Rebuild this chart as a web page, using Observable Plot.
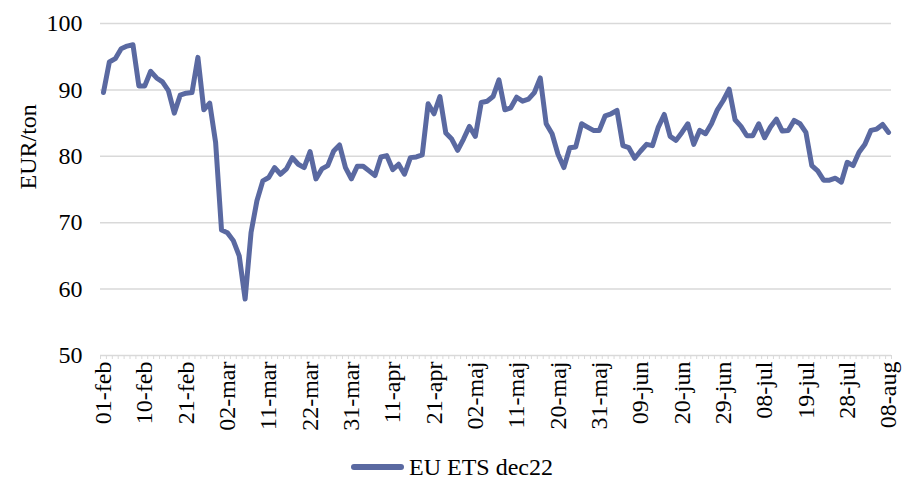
<!DOCTYPE html>
<html>
<head>
<meta charset="utf-8">
<script src="https://cdn.jsdelivr.net/npm/d3@7"></script>
<script src="https://cdn.jsdelivr.net/npm/@observablehq/plot@0.6"></script>
<style>
  html, body { margin: 0; padding: 0; background: #fff; }
  body { width: 904px; height: 489px; overflow: hidden; font-family: "Liberation Serif", Tinos, "Times New Roman", Times, "DejaVu Serif", serif; }
  #chart svg, #chart svg text { font-family: "Liberation Serif", Tinos, "Times New Roman", Times, "DejaVu Serif", serif !important; }
  #legend { display: flex; justify-content: center; align-items: center; height: 44px; font-size: 24px; color: #000; }
  #legend .sw { width: 53px; height: 5.5px; border-radius: 3px; background: #5a69a1; margin-right: 5px; }
</style>
</head>
<body>
<div id="chart"></div>
<div id="legend"><span class="sw"></span><span>EU ETS dec22</span></div>
<script>
// X tick labels (every 7th trading day)
const tickLabels = ["01-feb","10-feb","21-feb","02-mar","11-mar","22-mar","31-mar","11-apr","21-apr","02-maj",
  "11-maj","20-maj","31-maj","09-jun","20-jun","29-jun","08-jul","19-jul","28-jul","08-aug"];

// EU ETS dec22 daily prices, EUR/ton
const prices = [
  89.6, 94.2, 94.7, 96.2, 96.6, 96.8, 90.6, 90.6, 92.8, 91.8,
  91.2, 89.9, 86.5, 89.2, 89.5, 89.6, 94.9, 87.0, 88.0, 82.1,
  68.9, 68.5, 67.3, 65.0, 58.5, 68.5, 73.3, 76.3, 76.8, 78.3,
  77.3, 78.1, 79.8, 78.8, 78.3, 80.7, 76.6, 78.1, 78.6, 80.8,
  81.7, 78.3, 76.6, 78.5, 78.5, 77.8, 77.1, 79.9, 80.1, 78.0,
  78.8, 77.3, 79.8, 79.9, 80.2, 87.9, 86.4, 89.0, 83.5, 82.6,
  80.9, 82.6, 84.5, 83.0, 88.1, 88.3, 89.0, 91.5, 87.0, 87.3,
  88.9, 88.3, 88.6, 89.6, 91.8, 84.9, 83.4, 80.3, 78.3, 81.3,
  81.4, 84.9, 84.4, 83.9, 83.9, 86.1, 86.4, 86.9, 81.6, 81.3,
  79.7, 80.8, 81.8, 81.6, 84.4, 86.3, 83.0, 82.4, 83.6, 84.9,
  81.8, 83.9, 83.4, 84.9, 87.0, 88.4, 90.1, 85.5, 84.5, 83.1,
  83.1, 84.9, 82.8, 84.4, 85.6, 83.8, 83.9, 85.4, 84.9, 83.6,
  78.6, 77.8, 76.4, 76.4, 76.7, 76.1, 79.1, 78.6, 80.6, 81.8,
  83.9, 84.1, 84.8, 83.6
];

const yTicks = [50, 60, 70, 80, 90, 100];
const gridValues = [60, 70, 80, 90, 100];
const labelStep = 7;

const n = prices.length;
const labelIdx = tickLabels.map((_, k) => k * labelStep);
const boundaries = d3.range(n + 1).map(i => i - 0.5);
const series = prices.map((v, i) => ({i, v}));

const lineColor = "#5a69a1";
const gridColor = "#d9d9d9";
const serif = "'Liberation Serif', Tinos, 'Times New Roman', Times, 'DejaVu Serif', serif";

const chart = Plot.plot({
  width: 904,
  height: 445,
  marginTop: 23,
  marginLeft: 100,
  marginRight: 13,
  marginBottom: 90,
  style: {fontFamily: serif, fontSize: "24px", color: "#000", background: "#fff"},
  x: {type: "linear", domain: [-0.5, n - 0.5]},
  y: {domain: [50, 100]},
  marks: [
    Plot.ruleY(gridValues, {stroke: gridColor, strokeWidth: 1.5}),
    Plot.ruleY([50], {stroke: gridColor, strokeWidth: 1.5}),
    Plot.axisX({ticks: boundaries, tickSize: 4, tickFormat: () => "", stroke: gridColor, strokeWidth: 1, label: null}),
    Plot.axisX({ticks: labelIdx, tickSize: 0, tickPadding: 6, tickRotate: -90,
      tickFormat: i => tickLabels[Math.round(i / labelStep)], label: null, fontSize: 24, fill: "#000"}),
    Plot.axisY({ticks: yTicks, tickSize: 0, tickPadding: 18, label: null, fontSize: 24, fill: "#000"}),
    Plot.text(["EUR/ton"], {frameAnchor: "left", rotate: -90, dx: -72, fontSize: 24, fill: "#000"}),
    Plot.line(series, {x: "i", y: "v", stroke: lineColor, strokeWidth: 5, strokeLinejoin: "round", strokeLinecap: "round"})
  ]
});
document.getElementById("chart").appendChild(chart);
</script>
</body>
</html>
